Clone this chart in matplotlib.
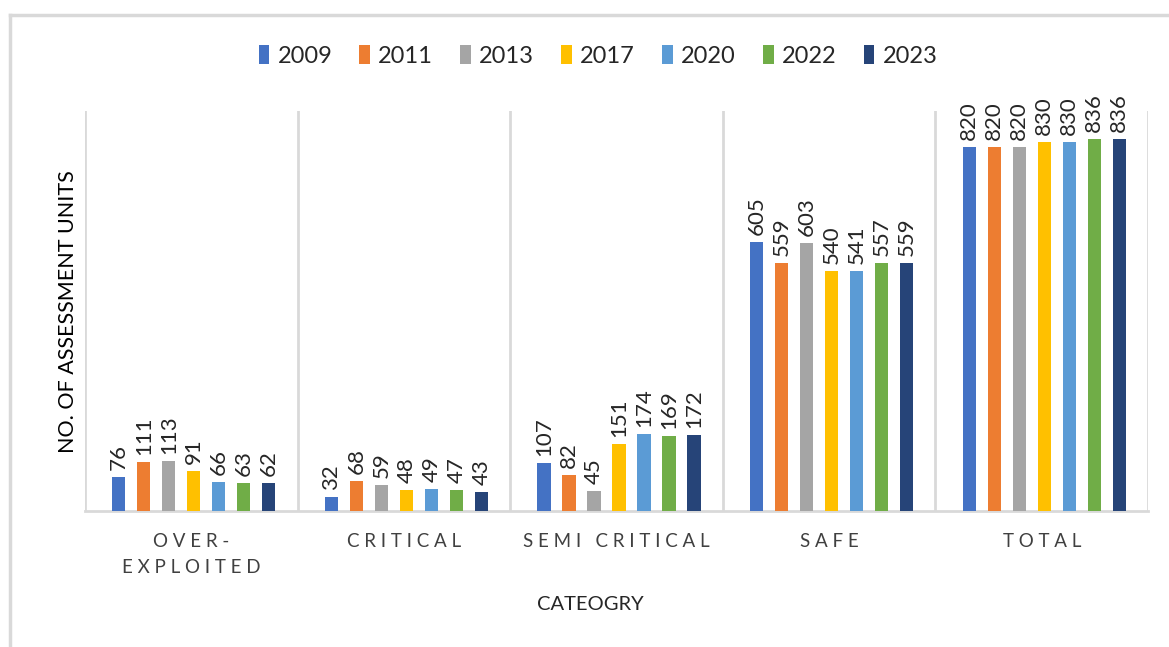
import matplotlib
matplotlib.use("Agg")
import matplotlib.pyplot as plt
from matplotlib.lines import Line2D
import numpy as np

plt.rcParams['font.family'] = ['Lato', 'DejaVu Sans']

categories = ["OVER-\nEXPLOITED", "CRITICAL", "SEMI CRITICAL", "SAFE", "TOTAL"]
years = ["2009", "2011", "2013", "2017", "2020", "2022", "2023"]
v2009 = [76, 32, 107, 605, 820]
v2011 = [111, 68, 82, 559, 820]
v2013 = [113, 59, 45, 603, 820]
v2017 = [91, 48, 151, 540, 830]
v2020 = [66, 49, 174, 541, 830]
v2022 = [63, 47, 169, 557, 836]
v2023 = [62, 43, 172, 559, 836]
series = [v2009, v2011, v2013, v2017, v2020, v2022, v2023]
colors = ["#4472C4", "#ED7D31", "#A5A5A5", "#FFC000", "#5B9BD5", "#70AD47", "#264478"]

W, H = 1169, 647
fig = plt.figure(figsize=(W / 100, H / 100), dpi=100)
fig.patch.set_facecolor("white")

# outer chart border (partially cropped in reference)
fig.add_artist(Line2D([10 / W, 10 / W], [0, 1 - 15 / H], color="#D9D9D9", lw=2.5))
fig.add_artist(Line2D([10 / W, 1], [1 - 15 / H, 1 - 15 / H], color="#D9D9D9", lw=2.5))

left, right, top, bottom = 85, 1148, 111, 511
ax = fig.add_axes([left / W, 1 - bottom / H, (right - left) / W, (bottom - top) / H])

n = len(categories)
x = np.arange(n)
slot = 0.1176
bw = 0.062
for i, (vals, c, yr) in enumerate(zip(series, colors, years)):
    offs = (i - 3) * slot + 0.012
    ax.bar(x + offs, vals, width=bw, color=c, label=yr, zorder=3)
    for xi, v in zip(x + offs, vals):
        ax.annotate(str(v), (xi, v), xytext=(0, 5), textcoords="offset points",
                    rotation=90, ha="center", va="bottom", fontsize=16,
                    color="#262626")

ax.set_xlim(-0.5, n - 0.5)
ax.set_ylim(0, 900)
ax.set_yticks([])
ax.set_xticks(x)


def spaced(s):
    lines = []
    for line in s.split("\n"):
        words = line.split(" ")
        lines.append("   ".join(" ".join(list(w)) for w in words))
    return "\n".join(lines)


ax.set_xticklabels([spaced(c) for c in categories], fontsize=13.5, color="#404040",
                   linespacing=1.65)
ax.tick_params(axis="x", length=0, pad=16)
for b in np.arange(-0.5, n, 1.0):
    ax.axvline(b, color="#D9D9D9", lw=2, zorder=1)
for s in ["top", "right", "left"]:
    ax.spines[s].set_visible(False)
ax.spines["bottom"].set_color("#D9D9D9")
ax.spines["bottom"].set_linewidth(2)

fig.text(590 / W, 1 - 605 / H, "CATEOGRY", ha="center", va="center",
         fontsize=14.5, color="#262626")
fig.text(68 / W, 1 - 312 / H, "NO. OF ASSESSMENT UNITS", ha="center", va="center",
         rotation=90, fontsize=15.5, color="#000000")

leg = fig.legend(loc="center", bbox_to_anchor=(598 / W, 1 - 56 / H), ncol=7,
                 frameon=False, fontsize=17, handlelength=0.45, handleheight=0.85,
                 handletextpad=0.35, columnspacing=1.15, labelcolor="#262626")

fig.savefig("out.png", dpi=100, facecolor="white")
